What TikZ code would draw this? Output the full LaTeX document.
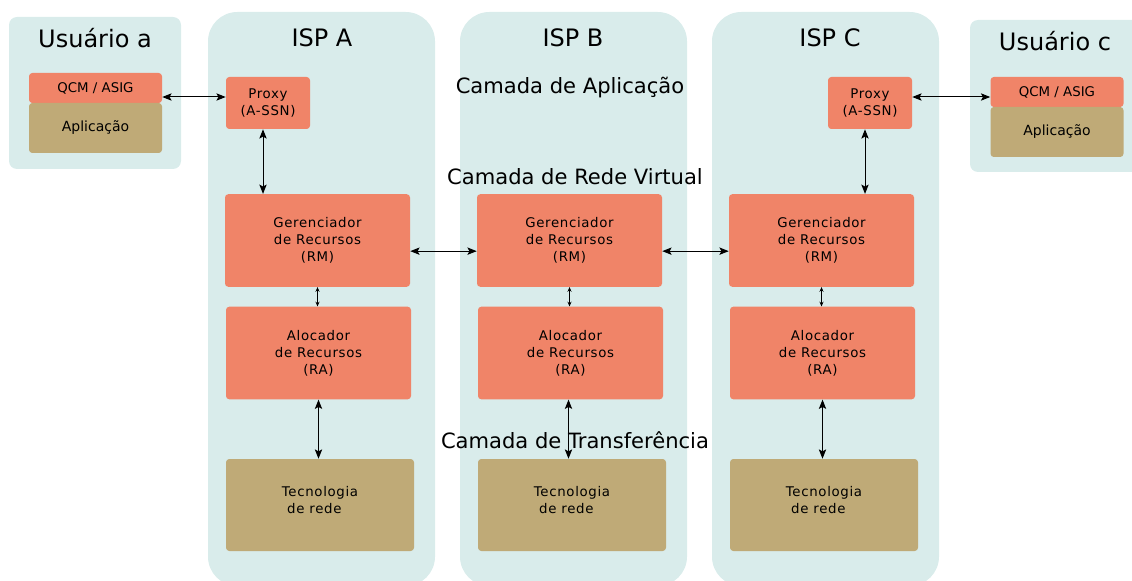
\documentclass[tikz,border=0pt]{standalone}
\usepackage{fontspec}
\setmainfont{DejaVu Sans}
\newfontfamily\boxfont[LetterSpace=5]{DejaVu Sans}
\usetikzlibrary{arrows.meta}
\definecolor{colbg}{RGB}{217,236,235}
\definecolor{salmon}{RGB}{240,132,104}
\definecolor{khaki}{RGB}{191,170,119}

\begin{document}
\begin{tikzpicture}[
    x=0.75pt, y=-0.75pt,
    column/.style={fill=colbg, rounded corners=22pt},
    userbox/.style={fill=colbg, rounded corners=6pt},
    title/.style={font=\fontsize{18}{18}\selectfont},
    layer/.style={font=\fontsize{15.8}{16}\selectfont},
    block/.style={rectangle, rounded corners=2.5pt, inner sep=0pt, align=center, font=\boxfont\fontsize{10}{12.75}\selectfont},
    func/.style={block, fill=salmon, minimum width=138.75pt, minimum height=69.5pt},
    tech/.style={block, fill=khaki, minimum width=141pt, minimum height=69pt},
    techtext/.style={align=left, yshift=4pt, inner sep=0pt, font=\boxfont\fontsize{10}{12.75}\selectfont},
    proxy/.style={block, fill=salmon, minimum width=63pt, minimum height=39pt},
    qcm/.style={block, fill=salmon, minimum width=99.75pt, minimum height=22.5pt, font=\fontsize{10}{12}\selectfont},
    app/.style={block, fill=khaki, minimum width=99.75pt, minimum height=37.5pt, font=\fontsize{10.5}{12}\selectfont},
    biarrow/.style={{Stealth[length=7pt,width=5.5pt,inset=1.5pt]}-{Stealth[length=7pt,width=5.5pt,inset=1.5pt]}, line width=0.75pt},
    smallarrow/.style={{Stealth[length=3.5pt,width=3pt]}-{Stealth[length=3.5pt,width=3pt]}, line width=0.5pt}
    ]
    \useasboundingbox (0,0) rectangle (1132,581);

    % background boxes
    \fill[userbox] (9,17) rectangle (181,169);
    \fill[column] (208,12) rectangle (435,586);
    \fill[column] (460,12) rectangle (687,586);
    \fill[column] (712,12) rectangle (939,586);
    \fill[userbox] (970,20) rectangle (1145,172);

    \node[title] (usra) at (95,38) {Usuário a};
    \node[title] (ispa) at (322,38) {ISP A};
    \node[title] (ispb) at (573,38) {ISP B};
    \node[title] (ispc) at (830,38) {ISP C};
    \node[title] (usrc) at (1055,41) {Usuário c};

    \node[layer] (lapp) at (570,88) {Camada de Aplicação};
    \node[layer] (lvnet) at (575,177) {Camada de Rede Virtual};
    \node[layer] (ltrans) at (575,440) {Camada de Transferência};

    % usuarios
    \node[qcm] (qcma) at (95.5,88) {QCM / ASIG};
    \node[app] (apla) at (95.5,128) {Aplicação};
    \node[qcm] (qcmc) at (1057,92) {QCM / ASIG};
    \node[app] (aplc) at (1057,132) {Aplicação};

    % proxies
    \node[proxy] (pxa) at (268,103) {Proxy\\(A-SSN)};
    \node[proxy] (pxc) at (870,103) {Proxy\\(A-SSN)};

    % gerenciadores
    \node[func] (rma) at (317.5,240.5) {Gerenciador\\de Recursos\\(RM)};
    \node[func] (rmb) at (569.5,240.5) {Gerenciador\\de Recursos\\(RM)};
    \node[func] (rmc) at (821.5,240.5) {Gerenciador\\de Recursos\\(RM)};

    % alocadores
    \node[func] (raa) at (318.5,353) {Alocador\\de Recursos\\(RA)};
    \node[func] (rab) at (570.5,353) {Alocador\\de Recursos\\(RA)};
    \node[func] (rac) at (822.5,353) {Alocador\\de Recursos\\(RA)};

    % tecnologias
    \node[tech] (tca) at (320,505) {};
    \node[tech] (tcb) at (572,505) {};
    \node[tech] (tcc) at (824,505) {};
    \node[techtext] (tta) at (tca) {Tecnologia\\\hspace{4pt}de rede};
    \node[techtext] (ttb) at (tcb) {Tecnologia\\\hspace{4pt}de rede};
    \node[techtext] (ttc) at (tcc) {Tecnologia\\\hspace{4pt}de rede};

    \draw[biarrow] ([yshift=-6.75pt]qcma.east) -- ([yshift=4.5pt]pxa.west);
    \draw[biarrow] ([yshift=4.5pt]pxc.east) -- ([yshift=-3.75pt]qcmc.west);
    \draw[biarrow] ([xshift=-3.75pt]pxa.south) -- ([xshift=-3.75pt]pxa.south |- rma.north);
    \draw[biarrow] ([xshift=-3.75pt]pxc.south) -- ([xshift=-3.75pt]pxc.south |- rmc.north);
    \draw[biarrow] ([yshift=-8pt]rma.east) -- ([yshift=-8pt]rmb.west);
    \draw[biarrow] ([yshift=-8pt]rmb.east) -- ([yshift=-8pt]rmc.west);

    \draw[smallarrow] (rma.south) -- (rma.south |- raa.north);
    \draw[smallarrow] (rmb.south) -- (rmb.south |- rab.north);
    \draw[smallarrow] (rmc.south) -- (rmc.south |- rac.north);

    \draw[biarrow] (raa.south) -- (raa.south |- tca.north);
    \draw[biarrow] ([xshift=-1.5pt]rab.south) -- ([xshift=-1.5pt]rab.south |- tcb.north);
    \draw[biarrow] (rac.south) -- (rac.south |- tcc.north);
\end{tikzpicture}
\end{document}
